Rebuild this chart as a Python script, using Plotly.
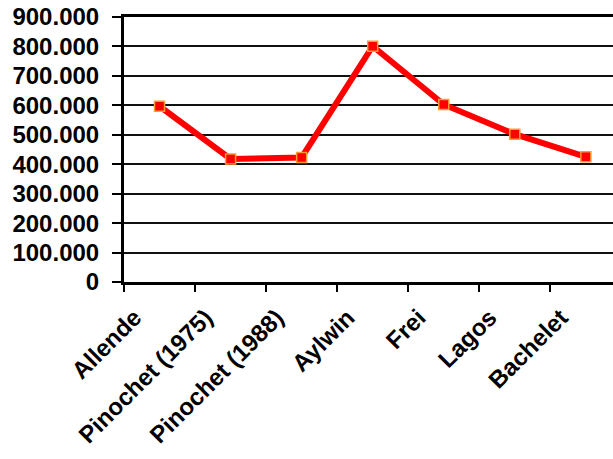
import plotly.graph_objects as go

categories = ["Allende", "Pinochet (1975)", "Pinochet (1988)", "Aylwin", "Frei", "Lagos", "Bachelet"]
values = [597000, 418000, 423000, 801000, 603000, 502000, 425000]
y_ticks = [0, 100000, 200000, 300000, 400000, 500000, 600000, 700000, 800000, 900000]

font_family = "Liberation Sans, Arial, sans-serif"

fig = go.Figure()
fig.add_trace(go.Scatter(
    x=categories, y=values, mode="lines+markers",
    line=dict(color="#FF0000", width=6),
    marker=dict(symbol="square", size=10, color="#FF0000",
                line=dict(color="#FF9933", width=1.5)),
    showlegend=False, cliponaxis=False,
))

fig.update_layout(
    width=613, height=459,
    margin=dict(l=124, r=0, t=17, b=177),
    paper_bgcolor="white", plot_bgcolor="white",
    separators=",.",
    font=dict(family=font_family, size=24, color="black"),
)
fig.update_xaxes(
    type="category", range=[-0.5, 6.382], automargin=False,
    showline=True, linecolor="black", linewidth=3, mirror=True,
    ticks="outside", ticklen=7, tickwidth=2, tickcolor="black",
    tickson="boundaries", showgrid=False,
    tickangle=-45,
    tickfont=dict(family=font_family, size=24, color="black", weight="bold"),
    ticklabelstandoff=9, ticklabelshift=-25, ticklabeloverflow="allow",
)
fig.update_yaxes(
    range=[0, 900000], tickvals=y_ticks, tickformat=",d", automargin=False,
    showline=True, linecolor="black", linewidth=3, mirror=False,
    ticks="outside", ticklen=9, tickwidth=2, tickcolor="black",
    showgrid=True, gridcolor="#111111", gridwidth=1.5,
    zeroline=False,
    tickfont=dict(family=font_family, size=24, color="black", weight="bold"),
    ticklabelstandoff=8, ticklabeloverflow="allow",
)

fig.write_html("out.html", config={"displayModeBar": False},
               post_script="document.body.style.margin='0';document.body.style.overflow='hidden';")
